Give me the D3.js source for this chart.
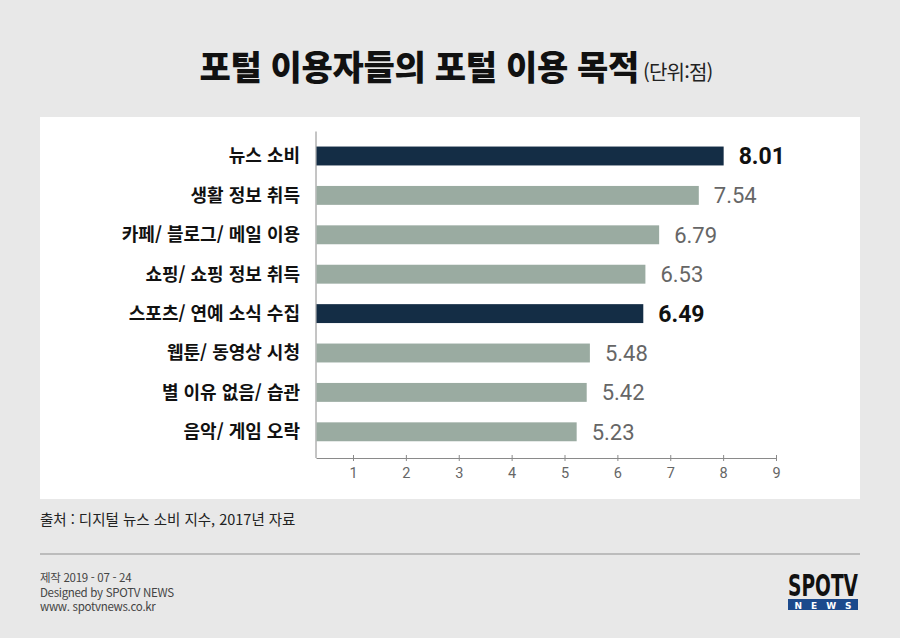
<!DOCTYPE html>
<html lang="ko">
<head>
<meta charset="utf-8">
<script src="https://cdn.jsdelivr.net/npm/d3@7"></script>
<style>
  html, body { margin: 0; padding: 0; background: #e8e8e8; }
  svg { display: block; font-family: "Noto Sans CJK KR", "Noto Sans", sans-serif; }
</style>
</head>
<body>
<div id="chart"></div>
<script>
// Daten: Portal-Nutzungszwecke (Einheit: Punkte)
const categories = ["뉴스 소비", "생활 정보 취득", "카페/ 블로그/ 메일 이용", "쇼핑/ 쇼핑 정보 취득",
                    "스포츠/ 연예 소식 수집", "웹툰/ 동영상 시청", "별 이유 없음/ 습관", "음악/ 게임 오락"];
const values = [8.01, 7.54, 6.79, 6.53, 6.49, 5.48, 5.42, 5.23];
const highlighted = ["뉴스 소비", "스포츠/ 연예 소식 수집"];
const tickValues = [1, 2, 3, 4, 5, 6, 7, 8, 9];

const data = categories.map((c, i) => ({ kategorie: c, wert: values[i] }));

const width = 900, height = 638;
const svg = d3.select("#chart").append("svg")
    .attr("width", width)
    .attr("height", height);

// Hintergrund
svg.append("rect").attr("width", width).attr("height", height).attr("fill", "#e8e8e8");

// Titel
const title = svg.append("text")
    .attr("x", 456)
    .attr("y", 80)
    .attr("text-anchor", "middle")
    .attr("fill", "#111");
title.append("tspan")
    .attr("font-size", 34)
    .attr("font-weight", 900)
    .attr("letter-spacing", "-0.3")
    .text("포털 이용자들의 포털 이용 목적");
title.append("tspan")
    .attr("font-size", 20)
    .attr("dx", 4)
    .attr("fill", "#222")
    .attr("letter-spacing", "-0.8")
    .text("(단위:점)");

// Weisse Fläche
svg.append("rect")
    .attr("x", 40).attr("y", 117)
    .attr("width", 820).attr("height", 382)
    .attr("fill", "#ffffff");

const x = d3.scaleLinear()
    .domain([0.3, 9])
    .range([316, 776]);

const y = d3.scaleBand()
    .domain(categories)
    .range([136.3, 451.5])
    .paddingInner(0.52)
    .paddingOuter(0.26);

const axisY = 458;

// x-Achse
const xAxis = svg.append("g")
    .attr("transform", `translate(0,${axisY})`)
    .call(d3.axisBottom(x).tickValues(tickValues).tickSizeInner(3).tickSizeOuter(0).tickPadding(7));
xAxis.select(".domain").attr("stroke", "#8a8a8a");
xAxis.selectAll(".tick line").attr("stroke", "#8a8a8a").attr("y1", -3);
xAxis.selectAll(".tick text")
    .attr("fill", "#666")
    .style("font-size", "14.5px")
    .style("font-family", "Roboto, sans-serif");

// y-Achsenlinie
svg.append("line")
    .attr("x1", x.range()[0]).attr("x2", x.range()[0])
    .attr("y1", 131.5).attr("y2", axisY)
    .attr("stroke", "#8a8a8a");

// Kategorien
svg.append("g")
    .selectAll("text")
    .data(data)
    .enter()
    .append("text")
    .attr("x", 300)
    .attr("y", d => y(d.kategorie) + y.bandwidth() / 2)
    .attr("dy", "0.36em")
    .attr("text-anchor", "end")
    .attr("font-size", 18)
    .attr("font-weight", 700)
    .attr("fill", "#111")
    .text(d => d.kategorie);

// Balken
svg.append("g")
    .selectAll("rect")
    .data(data)
    .enter()
    .append("rect")
    .attr("x", x.range()[0] + 0.5)
    .attr("y", d => y(d.kategorie))
    .attr("width", d => x(d.wert) - x.range()[0] - 0.5)
    .attr("height", y.bandwidth())
    .attr("fill", d => highlighted.includes(d.kategorie) ? "#142d45" : "#9aaba1");

// Werte
svg.append("g")
    .selectAll("text")
    .data(data)
    .enter()
    .append("text")
    .attr("x", d => x(d.wert) + 15)
    .attr("y", d => y(d.kategorie) + y.bandwidth() / 2)
    .attr("dy", "0.36em")
    .attr("font-family", "Roboto, sans-serif")
    .attr("font-size", d => highlighted.includes(d.kategorie) ? 23 : 22)
    .attr("font-weight", d => highlighted.includes(d.kategorie) ? 700 : 400)
    .attr("fill", d => highlighted.includes(d.kategorie) ? "#111" : "#666")
    .text(d => d.wert.toFixed(2));

// Quelle
svg.append("text")
    .attr("x", 40).attr("y", 525)
    .attr("font-size", 14.5)
    .attr("fill", "#222")
    .text("출처 : 디지털 뉴스 소비 지수, 2017년 자료");

svg.append("line")
    .attr("x1", 40).attr("x2", 860)
    .attr("y1", 554).attr("y2", 554)
    .attr("stroke", "#8f8f8f")
    .attr("stroke-width", 1.2);

// Impressum
const impressum = ["제작 2019 - 07 - 24", "Designed by SPOTV NEWS", "www. spotvnews.co.kr"];
svg.append("g")
    .selectAll("text")
    .data(impressum)
    .enter()
    .append("text")
    .attr("x", 40)
    .attr("y", (d, i) => 582 + i * 14.5)
    .attr("font-size", 11.5)
    .attr("fill", "#444")
    .attr("letter-spacing", "-0.3")
    .text(d => d);

// Logo
svg.append("text")
    .attr("x", 788).attr("y", 596)
    .attr("font-family", "'DejaVu Sans Condensed', sans-serif")
    .attr("font-weight", 900)
    .attr("font-size", 30)
    .attr("textLength", 70)
    .attr("lengthAdjust", "spacingAndGlyphs")
    .attr("fill", "#111")
    .text("SPOTV");
svg.append("rect")
    .attr("x", 788).attr("y", 599)
    .attr("width", 70).attr("height", 11)
    .attr("fill", "#1c4a8c");
svg.append("text")
    .attr("x", 823).attr("y", 608.5)
    .attr("text-anchor", "middle")
    .attr("font-family", "'DejaVu Sans', sans-serif")
    .attr("font-weight", 700)
    .attr("font-size", 9)
    .attr("letter-spacing", "9")
    .attr("dx", 4.5)
    .attr("fill", "#fff")
    .text("NEWS");
</script>
</body>
</html>
